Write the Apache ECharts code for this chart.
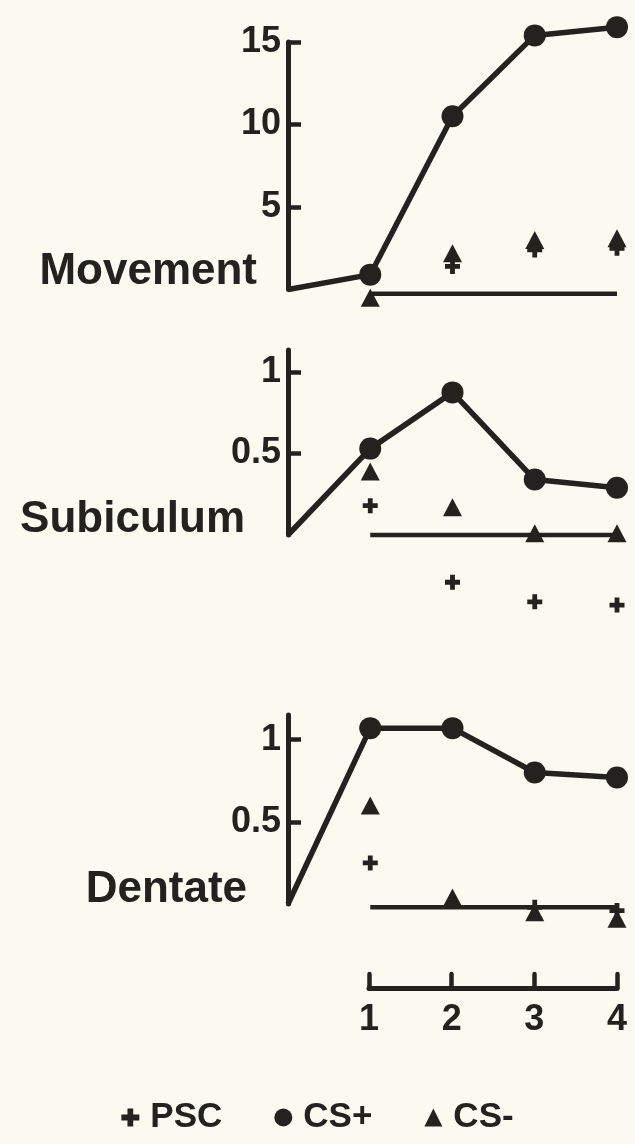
<!DOCTYPE html>
<html>
<head>
<meta charset="utf-8">
<title>Movement, Subiculum and Dentate responses across sessions</title>
<script src="https://cdn.jsdelivr.net/npm/echarts@6/dist/echarts.min.js"></script>
<style>
  html, body { margin: 0; padding: 0; background: #fcfaf0; }
  #chart { width: 635px; height: 1144px; }
</style>
</head>
<body>
<div id="chart"></div>
<script>
// Sessions (x) shared by all three panels
const trials = [1, 2, 3, 4];
const panelNames = ['Movement', 'Subiculum', 'Dentate'];

// Movement
const movementCSPlus  = [0.9, 10.5, 15.4, 15.9];
const movementCSMinus = [-0.5, 2.2, 3.0, 3.1];
const movementPSC     = [null, 1.4, 2.4, 2.5];
const movementBase    = -0.25;

// Subiculum
const subiculumCSPlus  = [0.53, 0.875, 0.34, 0.29];
const subiculumCSMinus = [0.39, 0.17, 0.01, 0.01];
const subiculumPSC     = [0.18, -0.29, -0.41, -0.43];
const subiculumBase    = 0;

// Dentate
const dentateCSPlus  = [1.07, 1.07, 0.80, 0.77];
const dentateCSMinus = [0.60, 0.04, -0.05, -0.09];
const dentatePSC     = [0.25, null, -0.02, -0.04];
const dentateBase    = -0.02;

// Tick labels
const movementTicks  = [5, 10, 15];
const subiculumTicks = [0.5, 1];
const dentateTicks   = [0.5, 1];
const sessionTicks   = [1, 2, 3, 4];

const ink = '#24221e';
const font = '"Liberation Sans", Arial, sans-serif';
const plusPath = 'path://M3.4,0H6.6V3.4H10V6.6H6.6V10H3.4V6.6H0V3.4H3.4Z';

const panels = [
  { cs: movementCSPlus,  csm: movementCSMinus,  psc: movementPSC,  base: movementBase,  ticks: movementTicks,  max: 15 },
  { cs: subiculumCSPlus, csm: subiculumCSMinus, psc: subiculumPSC, base: subiculumBase, ticks: subiculumTicks, max: 1.135 },
  { cs: dentateCSPlus,   csm: dentateCSMinus,   psc: dentatePSC,   base: dentateBase,   ticks: dentateTicks,   max: 1.15 }
];

const grids = [
  { left: 288, width: 329, top: 42,  height: 247.5 },
  { left: 288, width: 329, top: 350, height: 185 },
  { left: 288, width: 329, top: 715, height: 189 },
  { left: 369, width: 248, top: 973, height: 15 }
];

const tickFont = { color: ink, fontSize: 36, fontWeight: 'bold', fontFamily: font };

const xAxes = panels.map((p, i) => ({
  type: 'value', gridIndex: i, min: 0, max: 4, show: false
}));
xAxes.push({
  type: 'value', gridIndex: 3, min: 1, max: 4, position: 'bottom',
  axisLine: { show: true, lineStyle: { color: ink, width: 5, cap: 'round' } },
  axisTick: { show: true, inside: true, length: 14, customValues: sessionTicks,
              lineStyle: { color: ink, width: 4.5, cap: 'round' } },
  axisLabel: Object.assign({ show: true, customValues: sessionTicks, margin: 14 }, tickFont),
  splitLine: { show: false }
});

const yAxes = panels.map((p, i) => ({
  type: 'value', gridIndex: i, min: 0, max: p.max,
  axisLine: { show: true, lineStyle: { color: ink, width: 5 } },
  axisTick: { show: true, inside: true, length: 13, customValues: p.ticks,
              lineStyle: { color: ink, width: 4.5 } },
  axisLabel: Object.assign({ show: true, customValues: p.ticks, margin: 7 }, tickFont),
  splitLine: { show: false }
}));
yAxes.push({ type: 'value', gridIndex: 3, show: false });

const series = [];
panels.forEach((p, i) => {
  series.push({
    name: 'baseline' + i, type: 'line', xAxisIndex: i, yAxisIndex: i, clip: false,
    data: [[trials[0], p.base], [trials[trials.length - 1], p.base]],
    symbol: 'none', lineStyle: { color: ink, width: 4.5 }, silent: true, z: 1
  });
  series.push({
    name: 'CS+', type: 'line', xAxisIndex: i, yAxisIndex: i, clip: false,
    data: [{ value: [0, 0], symbol: 'none' }].concat(trials.map((t, k) => [t, p.cs[k]])),
    symbol: 'circle', symbolSize: 22,
    itemStyle: { color: ink, opacity: 1 }, lineStyle: { color: ink, width: 5.5 }, z: 4
  });
  series.push({
    name: 'CS-', type: 'scatter', xAxisIndex: i, yAxisIndex: i, clip: false,
    data: trials.map((t, k) => [t, p.csm[k]]).filter(d => d[1] !== null),
    symbol: 'triangle', symbolSize: [19, 18], itemStyle: { color: ink, opacity: 1 }, z: 3
  });
  series.push({
    name: 'PSC', type: 'scatter', xAxisIndex: i, yAxisIndex: i, clip: false,
    data: trials.map((t, k) => [t, p.psc[k]]).filter(d => d[1] !== null),
    symbol: plusPath, symbolSize: 15, itemStyle: { color: ink, opacity: 1 }, z: 3
  });
});

// Panel names, set to the left of each y axis
const labelX = [257, 245, 247];
const labelY = [272, 520, 890];
const graphic = panelNames.map((n, i) => ({
  type: 'text', x: labelX[i], y: labelY[i],
  style: { text: n, fill: ink, font: 'bold 44px ' + font,
           textAlign: 'right', textVerticalAlign: 'middle' }
}));

const chart = echarts.init(document.getElementById('chart'), null, { renderer: 'canvas' });
chart.setOption({
  backgroundColor: '#fcfaf0',
  animation: false,
  grid: grids,
  xAxis: xAxes,
  yAxis: yAxes,
  series: series,
  graphic: graphic,
  legend: {
    top: 1095, left: 'center', itemGap: 52, itemWidth: 18, itemHeight: 18,
    selectedMode: false,
    textStyle: { color: ink, fontSize: 35, fontWeight: 'bold', fontFamily: font,
                 padding: [0, 0, 0, 6] },
    data: [
      { name: 'PSC', icon: plusPath },
      { name: 'CS+', icon: 'circle' },
      { name: 'CS-', icon: 'triangle' }
    ]
  }
});
</script>
</body>
</html>
